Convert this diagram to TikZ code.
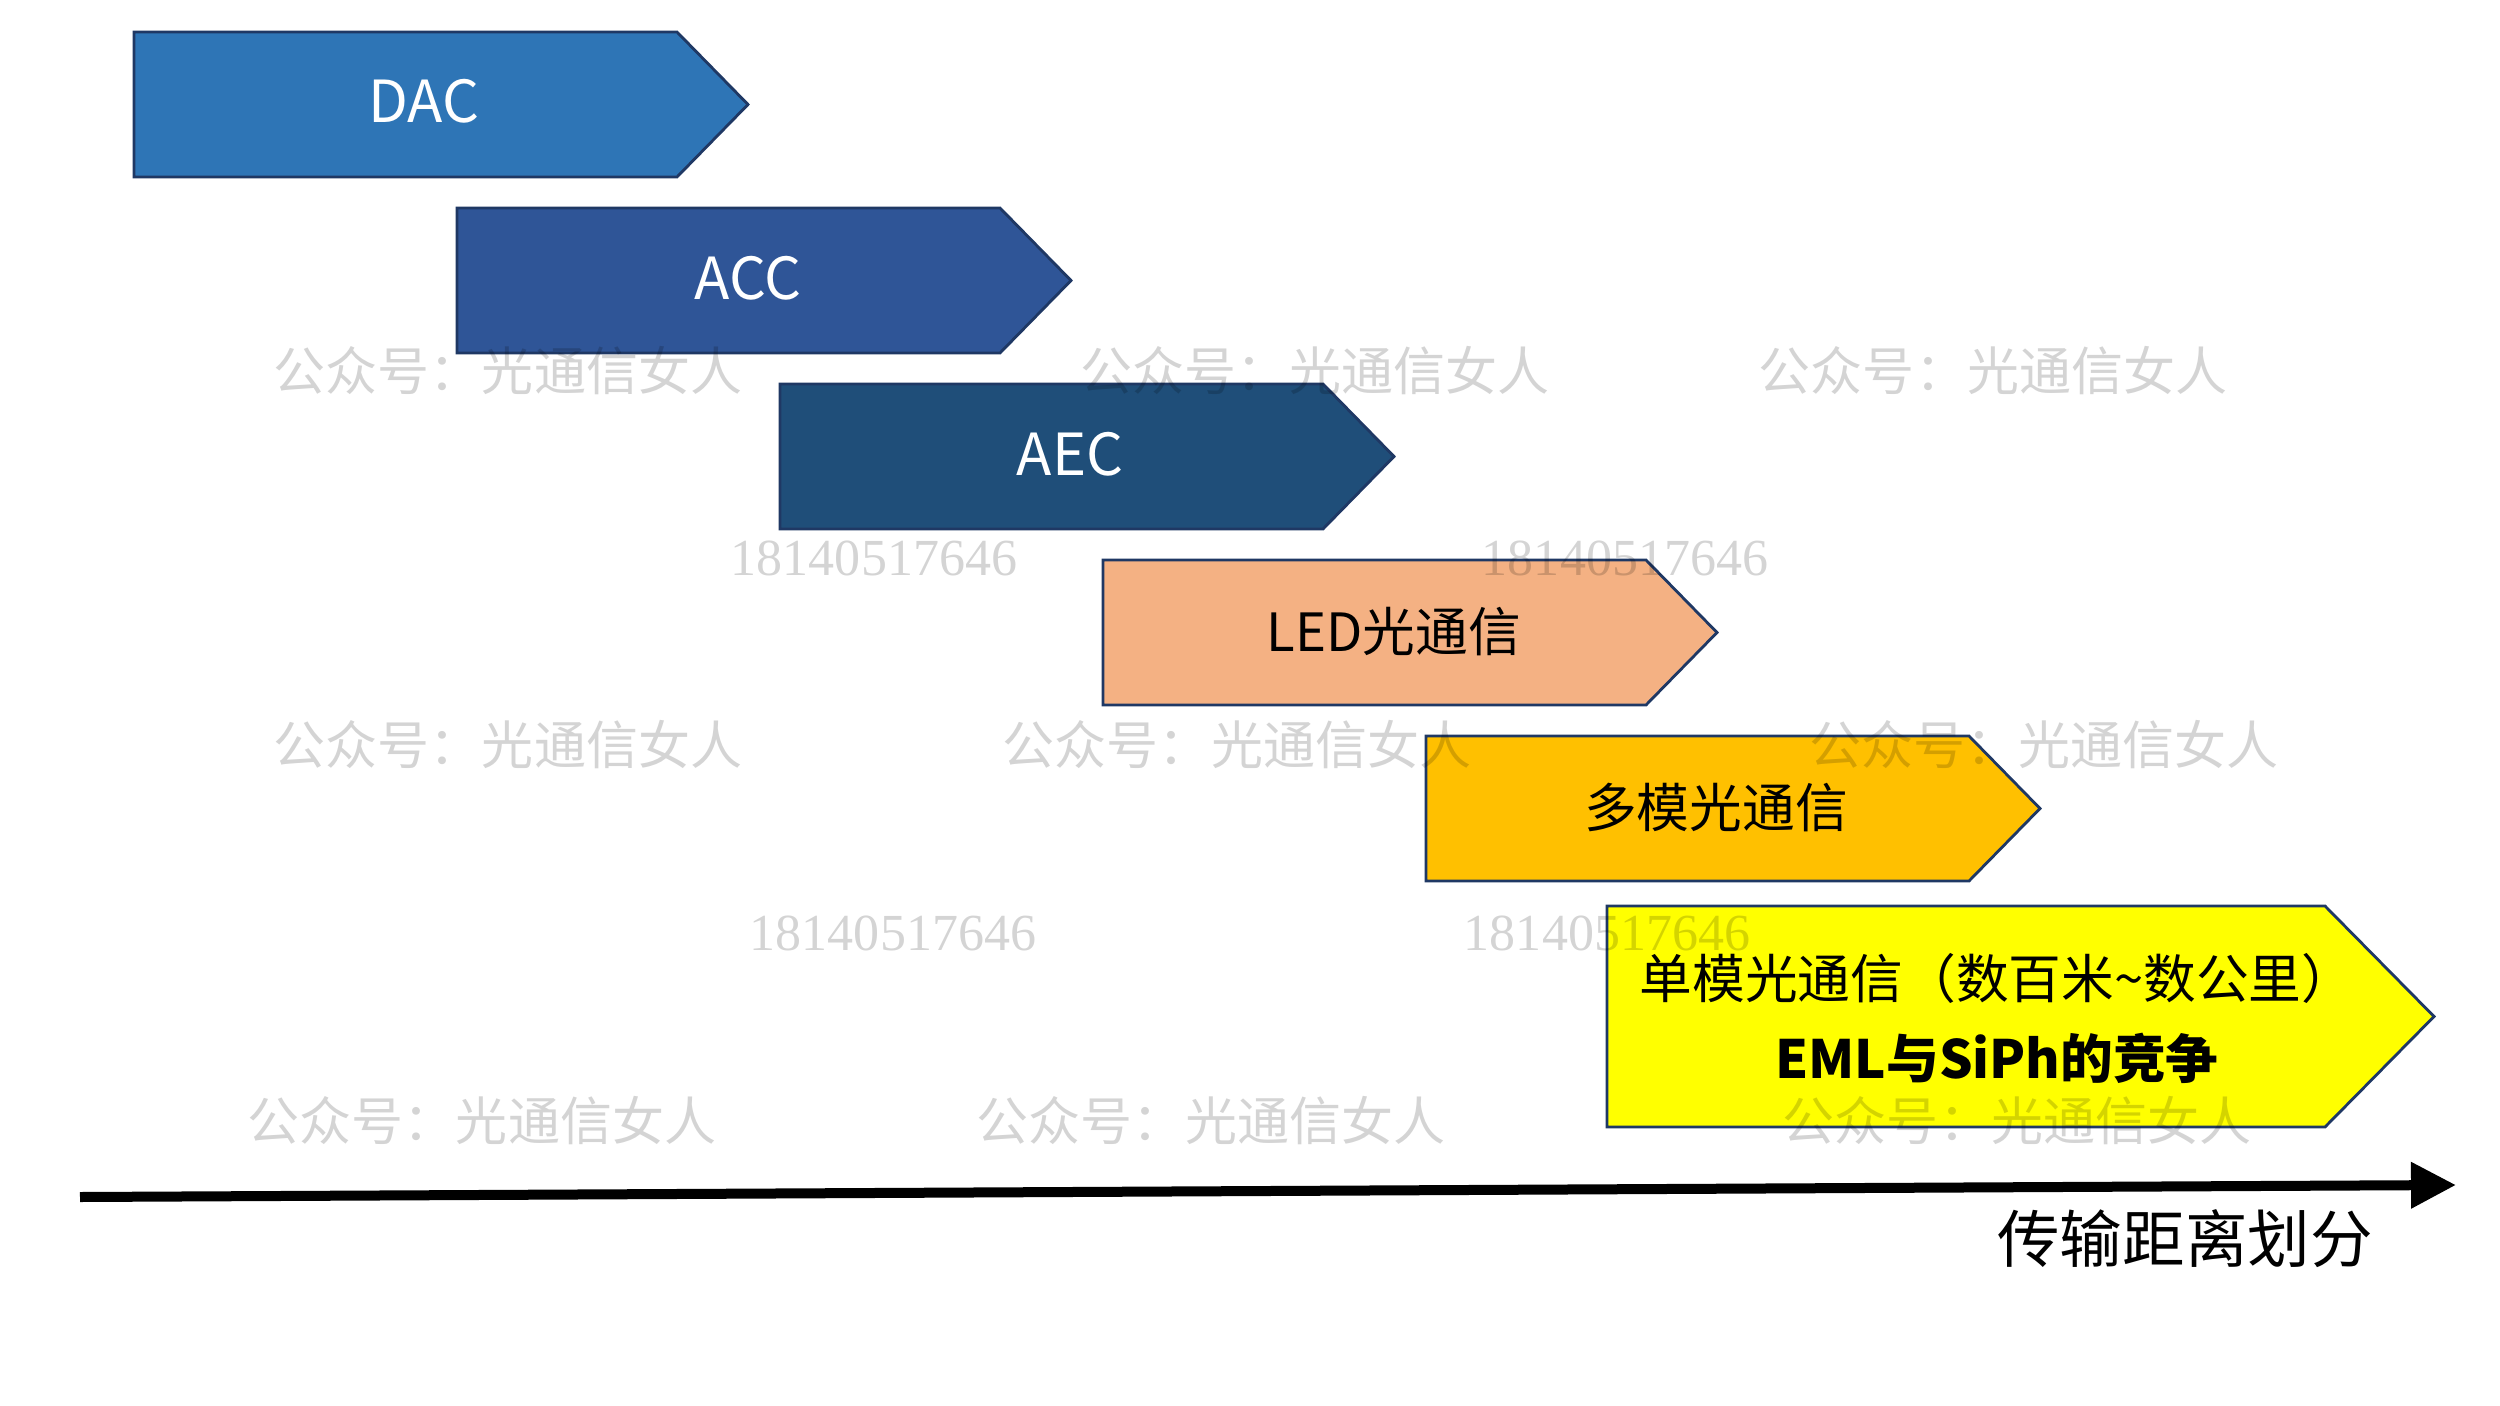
\documentclass[tikz,border=0pt]{standalone}
\usepackage{fontspec}
\setmainfont{Noto Sans CJK SC}
\newfontfamily\wmdigits{Liberation Serif}
\usepackage{tikz}
\usetikzlibrary{positioning,arrows.meta}

\definecolor{dacblue}{HTML}{2E75B6}
\definecolor{accblue}{HTML}{2F5597}
\definecolor{aecblue}{HTML}{1F4E79}
\definecolor{ledorange}{HTML}{F4B183}
\definecolor{mmgold}{HTML}{FFC000}
\definecolor{smyellow}{HTML}{FFFF00}
\definecolor{edgenavy}{HTML}{1F3864}

\tikzset{
    stage/.style={draw=edgenavy, line width=0.8pt},
    stagetext/.style={inner sep=0pt, anchor=base, font=\fontsize{15}{18}\selectfont},
    latintext/.style={stagetext, text=white, font=\fontsize{16.5}{19}\selectfont},
    watermark/.style={inner sep=0pt, text=black, opacity=0.17, font=\fontsize{14.8}{17}\selectfont},
}

\begin{document}
\begin{tikzpicture}
    \useasboundingbox (0,0) rectangle (25,-14.06);

    % Stages
    \draw[stage, fill=dacblue] (1.34,-0.32) -- ++(5.43,0) -- ++(0.71,-0.725) -- ++(-0.71,-0.725) -- ++(-5.43,0) -- cycle;
    \draw[stage, fill=accblue] (4.57,-2.08) -- ++(5.43,0) -- ++(0.71,-0.725) -- ++(-0.71,-0.725) -- ++(-5.43,0) -- cycle;
    \draw[stage, fill=aecblue] (7.80,-3.84) -- ++(5.43,0) -- ++(0.71,-0.725) -- ++(-0.71,-0.725) -- ++(-5.43,0) -- cycle;
    \draw[stage, fill=ledorange] (11.03,-5.60) -- ++(5.43,0) -- ++(0.71,-0.725) -- ++(-0.71,-0.725) -- ++(-5.43,0) -- cycle;
    \draw[stage, fill=mmgold] (14.26,-7.36) -- ++(5.43,0) -- ++(0.71,-0.725) -- ++(-0.71,-0.725) -- ++(-5.43,0) -- cycle;
    \draw[stage, fill=smyellow] (16.07,-9.06) -- ++(7.18,0) -- ++(1.09,-1.105) -- ++(-1.09,-1.105) -- ++(-7.18,0) -- cycle;

    % Nodes
    \node[latintext] (dac) at (4.24,-1.23) {DAC};
    \node[latintext] (acc) at (7.48,-2.99) {ACC};
    \node[latintext] (aec) at (10.70,-4.75) {AEC};
    \node[stagetext] (led) at (13.94,-6.51) {LED光通信};
    \node[stagetext] (multimode) at (17.16,-8.27) {多模光通信};
    \node[stagetext] (singlemode) at (19.97,-9.98) {单模光通信（数百米\textasciitilde 数公里）};
    \node[stagetext, font=\fontsize{15}{18}\selectfont\bfseries] (competition) at (19.97,-10.78) {EML与SiPh的竞争};

    \coordinate (axisstart) at (0.80,-11.97);
    \coordinate (axisend) at (24.56,-11.85);
    \node[inner sep=0pt, anchor=base, font=\fontsize{17.8}{21}\selectfont] (distance) at (21.85,-12.62) {传输距离划分};

    % Arrows
    \draw[line width=0.1cm, -{Triangle[length=0.45cm, width=0.44cm]}] (axisstart) -- (axisend);

    % Watermarks
    \node[watermark] (wma) at (5.08,-3.71) {公众号：光通信女人};
    \node[watermark] (wmb) at (13.15,-3.71) {公众号：光通信女人};
    \node[watermark] (wmc) at (19.93,-3.71) {公众号：光通信女人};
    \node[watermark] (wmd) at (5.08,-7.45) {公众号：光通信女人};
    \node[watermark] (wme) at (12.37,-7.45) {公众号：光通信女人};
    \node[watermark] (wmf) at (20.44,-7.45) {公众号：光通信女人};
    \node[watermark] (wmg) at (4.82,-11.21) {公众号：光通信女人};
    \node[watermark] (wmh) at (12.11,-11.21) {公众号：光通信女人};
    \node[watermark] (wmi) at (20.17,-11.21) {公众号：光通信女人};
    \node[watermark, font=\fontsize{14.8}{17}\selectfont\wmdigits] (wmj) at (8.74,-5.58) {18140517646};
    \node[watermark, font=\fontsize{14.8}{17}\selectfont\wmdigits] (wmk) at (16.25,-5.58) {18140517646};
    \node[watermark, font=\fontsize{14.8}{17}\selectfont\wmdigits] (wml) at (8.93,-9.33) {18140517646};
    \node[watermark, font=\fontsize{14.8}{17}\selectfont\wmdigits] (wmm) at (16.07,-9.33) {18140517646};
\end{tikzpicture}
\end{document}
